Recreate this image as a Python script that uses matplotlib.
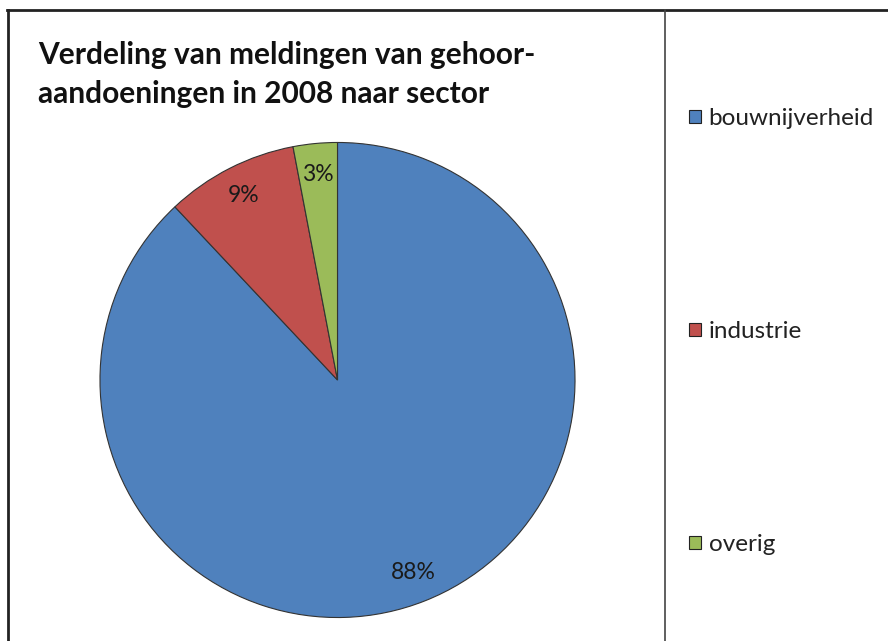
import matplotlib
matplotlib.use("Agg")
import matplotlib.pyplot as plt
from matplotlib.lines import Line2D

plt.rcParams['font.family'] = ['Lato', 'DejaVu Sans']

categories = ["bouwnijverheid", "industrie", "overig"]
values = [88, 9, 3]
colors = ["#4F81BD", "#C0504D", "#9BBB59"]
title = "Verdeling van meldingen van gehoor-\naandoeningen in 2008 naar sector"

W, H = 888, 641
fig = plt.figure(figsize=(W / 100, H / 100), dpi=100)

# pie axes: centre (337.5, 380) px, radius 238 px
cx, cy, r = 337.5, 380, 238
ax = fig.add_axes([(cx - r) / W, (H - cy - r) / H, 2 * r / W, 2 * r / H])
wedges, texts, autotexts = ax.pie(
    values, colors=colors, startangle=90, counterclock=False,
    autopct=lambda p: f"{p:.0f}%", pctdistance=0.87,
    wedgeprops=dict(edgecolor="#333333", linewidth=0.8),
    textprops=dict(fontsize=16.5, color="#1a1a1a"))
ax.set_xlim(-1.002, 1.002)
ax.set_ylim(-1.002, 1.002)
ax.axis("off")

# frame lines
fig.add_artist(Line2D([8 / W, 8 / W], [0, 1 - 10 / H], transform=fig.transFigure,
                      color="#222222", linewidth=2))
fig.add_artist(Line2D([7 / W, 1], [1 - 10 / H, 1 - 10 / H], transform=fig.transFigure,
                      color="#222222", linewidth=2))
fig.add_artist(Line2D([665 / W, 665 / W], [0, 1 - 10 / H], transform=fig.transFigure,
                      color="#444444", linewidth=1.2))

fig.text(38 / W, 1 - 41 / H, title, fontsize=21.5, fontweight="bold",
         va="top", ha="left", color="#111111", linespacing=1.5)

leg = fig.legend(wedges, categories, loc="upper left",
                 bbox_to_anchor=(677 / W, 1 - 96 / H), frameon=False,
                 fontsize=17.5, labelspacing=7.9, handlelength=0.5,
                 handleheight=0.5, handletextpad=0.3, borderpad=0,
                 labelcolor="#222222")
for h in leg.legend_handles:
    h.set_edgecolor("#222222")
    h.set_linewidth(0.8)

fig.savefig("out.png", dpi=100)
